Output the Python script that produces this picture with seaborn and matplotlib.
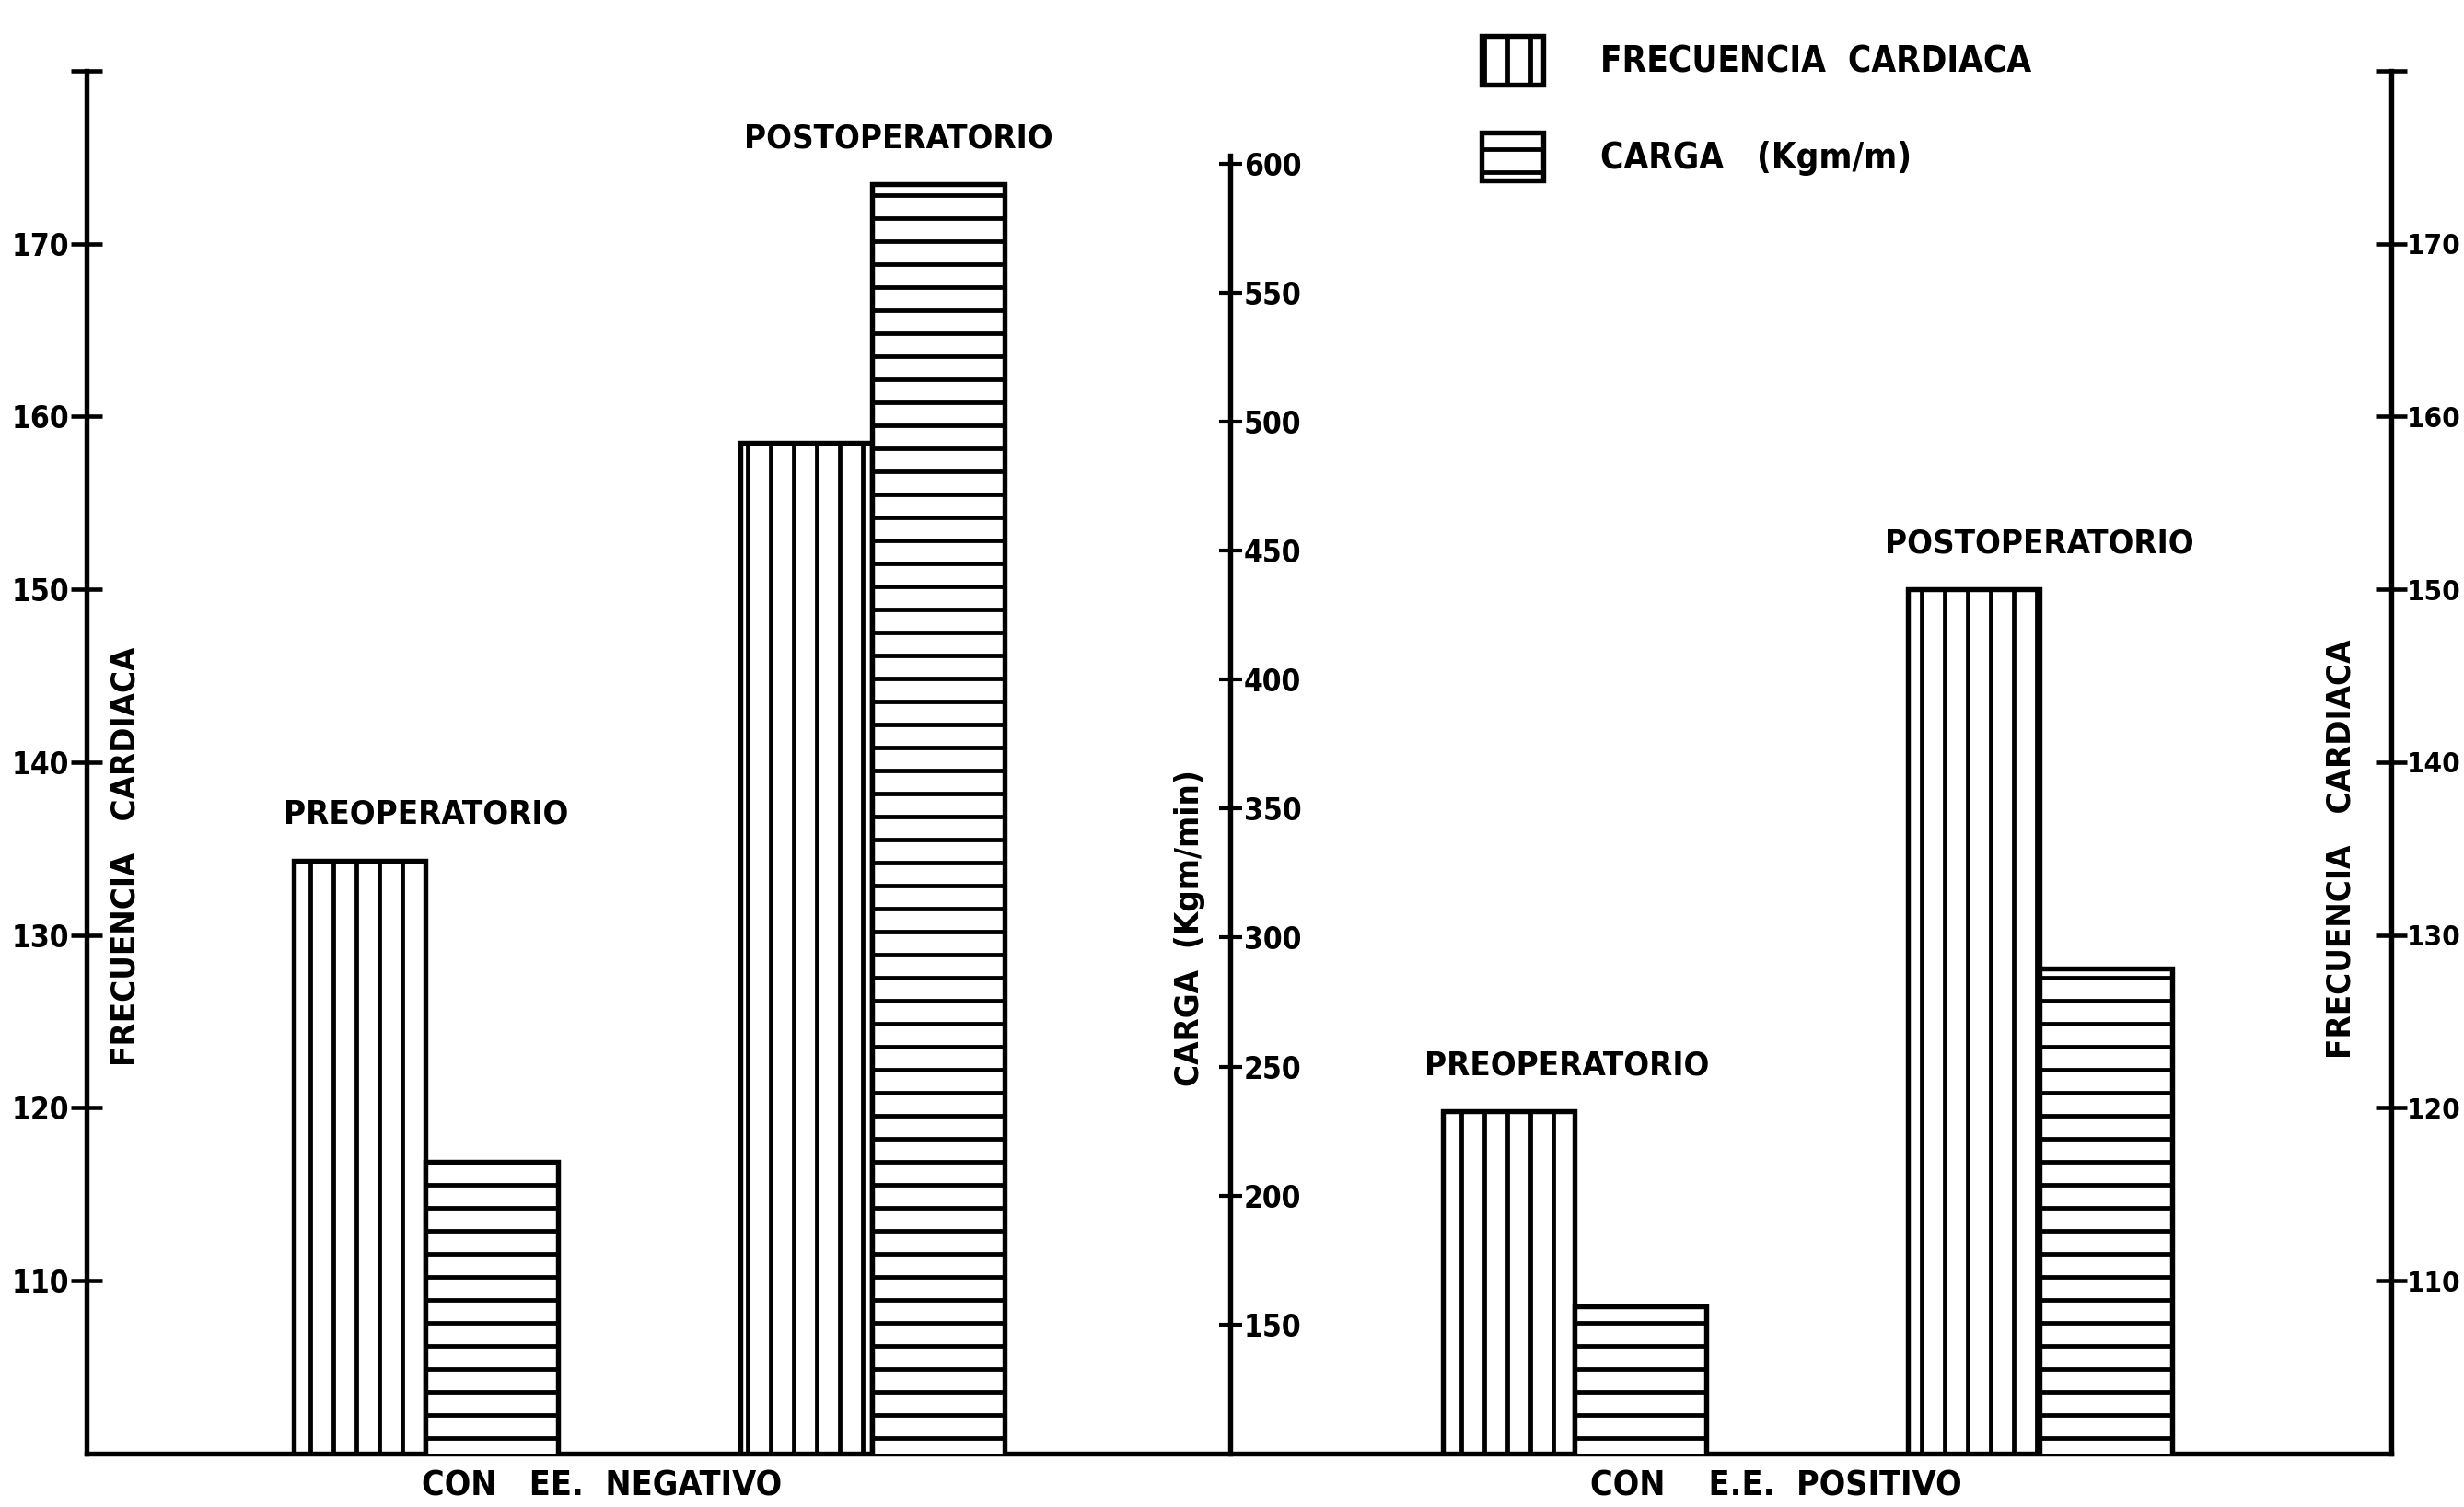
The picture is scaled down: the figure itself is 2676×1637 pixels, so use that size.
import numpy as np
import pandas as pd
import matplotlib
matplotlib.use("Agg")
import matplotlib.pyplot as plt
import matplotlib.transforms as mtransforms
from matplotlib import font_manager as fm
from matplotlib.patches import Patch
import seaborn as sns

# ---------------- data ----------------
groups = ["CON   EE.  NEGATIVO", "CON    E.E.  POSITIVO"]
periods = ["PREOPERATORIO", "POSTOPERATORIO", "PREOPERATORIO", "POSTOPERATORIO"]
fc_values = [134.3, 158.5, 119.8, 150.0]        # frecuencia cardiaca (lpm)
carga_values = [213, 592, 157, 288]             # carga (Kgm/min)
fc_ticks = [110, 120, 130, 140, 150, 160, 170]
carga_ticks = [150, 200, 250, 300, 350, 400, 450, 500, 550, 600]
series_labels = ["FRECUENCIA  CARDIACA", "CARGA   (Kgm/m)"]
fc_axis_label = "FRECUENCIA   CARDIACA"
carga_axis_label = "CARGA  (Kgm/min)"

# ---------------- layout ----------------
W, H, DPI = 2676, 1637, 150
pair_centers = np.array([271, 555, 1002, 1298])  # horizontal layout units
label_shift = [0, 17, -5, 0]                     # period label nudges
bar_w = 84
x_range = (55, 1522)
fc_lim = (100, 180)
carga_lim = (100, 636)
carga_spine_top = 603
mid_axis_x = 783
group_label_x = [383, 1130]
LW = 2.6
FS_TICK = 16
FS_PERIOD = 17.5
FS_AXIS = 17.5
FS_LEG = 18.5
FS_GROUP = 18

sns.set_theme(style="white")
names = {(f.name, f.stretch) for f in fm.fontManager.ttflist}
if any(n == "DejaVu Sans" and s == "condensed" for n, s in names):
    family, stretch = ["DejaVu Sans"], "condensed"
elif any(n == "Liberation Sans Narrow" for n, s in names):
    family, stretch = ["Liberation Sans Narrow", "DejaVu Sans"], "normal"
else:
    family, stretch = ["DejaVu Sans"], "normal"
plt.rcParams["font.family"] = family
plt.rcParams["font.stretch"] = stretch
plt.rcParams["font.weight"] = "bold"
plt.rcParams["text.color"] = "black"
plt.rcParams["axes.labelcolor"] = "black"
plt.rcParams["hatch.linewidth"] = 2.3
plt.rcParams["hatch.color"] = "black"

fig = plt.figure(figsize=(W / DPI, H / DPI), dpi=DPI)
ax = fig.add_axes([55 / 1568, 1 - 925 / 959, (1522 - 55) / 1568, (925 - 45) / 959])
ax2 = ax.twinx()
ax3 = ax.twinx()

df_fc = pd.DataFrame({"pos": pair_centers - bar_w / 2, "valor": fc_values})
df_cg = pd.DataFrame({"pos": pair_centers + bar_w / 2, "valor": carga_values})


def unit(p):
    return np.diff(np.unique(p)).min()


sns.barplot(data=df_fc, x="pos", y="valor", native_scale=True, orient="x",
            errorbar=None, width=bar_w / unit(df_fc["pos"]), color="white",
            saturation=1, edgecolor="black", linewidth=LW, hatch="|", ax=ax)
sns.barplot(data=df_cg, x="pos", y="valor", native_scale=True, orient="x",
            errorbar=None, width=bar_w / unit(df_cg["pos"]), color="white",
            saturation=1, edgecolor="black", linewidth=LW, hatch="-", ax=ax2)

for a in (ax, ax2, ax3):
    a.set_xlim(*x_range)
    a.set_xlabel("")
    a.set_ylabel("")
    a.set_xticks([])
    a.grid(False)
    for s in a.spines.values():
        s.set_visible(False)
        s.set_linewidth(LW)
        s.set_color("black")

# left FC axis
ax.set_ylim(*fc_lim)
ax.set_yticks(fc_ticks + [fc_lim[1]])
ax.set_yticklabels([str(t) for t in fc_ticks] + [""])
ax.spines["left"].set_visible(True)
ax.spines["bottom"].set_visible(True)
ax.tick_params(axis="y", direction="inout", length=16, width=2.2,
               labelsize=FS_TICK, pad=1, left=True, colors="black")

# middle carga axis
ax2.set_ylim(*carga_lim)
ax2.set_yticks(carga_ticks)
ax2.set_yticklabels([str(t) for t in carga_ticks])
ax2.spines["right"].set_visible(True)
ax2.spines["right"].set_position(("data", mid_axis_x))
ax2.spines["right"].set_bounds(carga_lim[0], carga_spine_top)
ax2.tick_params(axis="y", direction="inout", length=12, width=2.0,
                labelsize=FS_TICK, pad=1, right=True, colors="black")

# right FC axis
ax3.set_ylim(*fc_lim)
ax3.set_yticks(fc_ticks + [fc_lim[1]])
ax3.set_yticklabels([str(t) for t in fc_ticks] + [""])
ax3.spines["right"].set_visible(True)
ax3.tick_params(axis="y", direction="inout", length=16, width=2.2,
                labelsize=FS_TICK - 1, pad=0, right=True, colors="black")

# axis titles
bl = mtransforms.blended_transform_factory(ax.transData, ax.transAxes)
ax.text(80, 0.432, fc_axis_label, transform=bl, rotation=90, ha="center",
        va="center", fontsize=FS_AXIS, fontweight="bold")
ax.text(757, 0.38, carga_axis_label, transform=bl, rotation=90, ha="center",
        va="center", fontsize=FS_AXIS, fontweight="bold")
ax.text(1490, 0.4375, fc_axis_label, transform=bl, rotation=90, ha="center",
        va="center", fontsize=FS_AXIS, fontweight="bold")

# period labels above each pair
fig.canvas.draw()
for i, c in enumerate(pair_centers):
    y_fc = ax.transData.transform((c, fc_values[i]))[1]
    y_cg = ax2.transData.transform((c, carga_values[i]))[1]
    y_top = ax.transData.inverted().transform((0, max(y_fc, y_cg)))[1]
    ax.annotate(periods[i], xy=(c + label_shift[i], y_top), xycoords="data",
                xytext=(0, 24), textcoords="offset points", ha="center",
                va="center", fontsize=FS_PERIOD, fontweight="bold",
                annotation_clip=False)

# group labels below baseline
for gx, g in zip(group_label_x, groups):
    ax.annotate(g, xy=(gx, 0), xycoords=bl, xytext=(0, -17),
                textcoords="offset points", ha="center", va="center",
                fontsize=FS_GROUP, fontweight="bold", annotation_clip=False)

# legend
handles = [Patch(facecolor="white", edgecolor="black", hatch="|", linewidth=LW),
           Patch(facecolor="white", edgecolor="black", hatch="-", linewidth=LW)]
fig.legend(handles, series_labels, loc="upper left",
           bbox_to_anchor=(943 / 1568, 1 - 23 / 959), frameon=False,
           handlelength=1.73, handleheight=1.73, handletextpad=1.6,
           labelspacing=1.34, fontsize=FS_LEG, borderpad=0, borderaxespad=0)

fig.savefig("out.png", dpi=DPI, facecolor="white")
